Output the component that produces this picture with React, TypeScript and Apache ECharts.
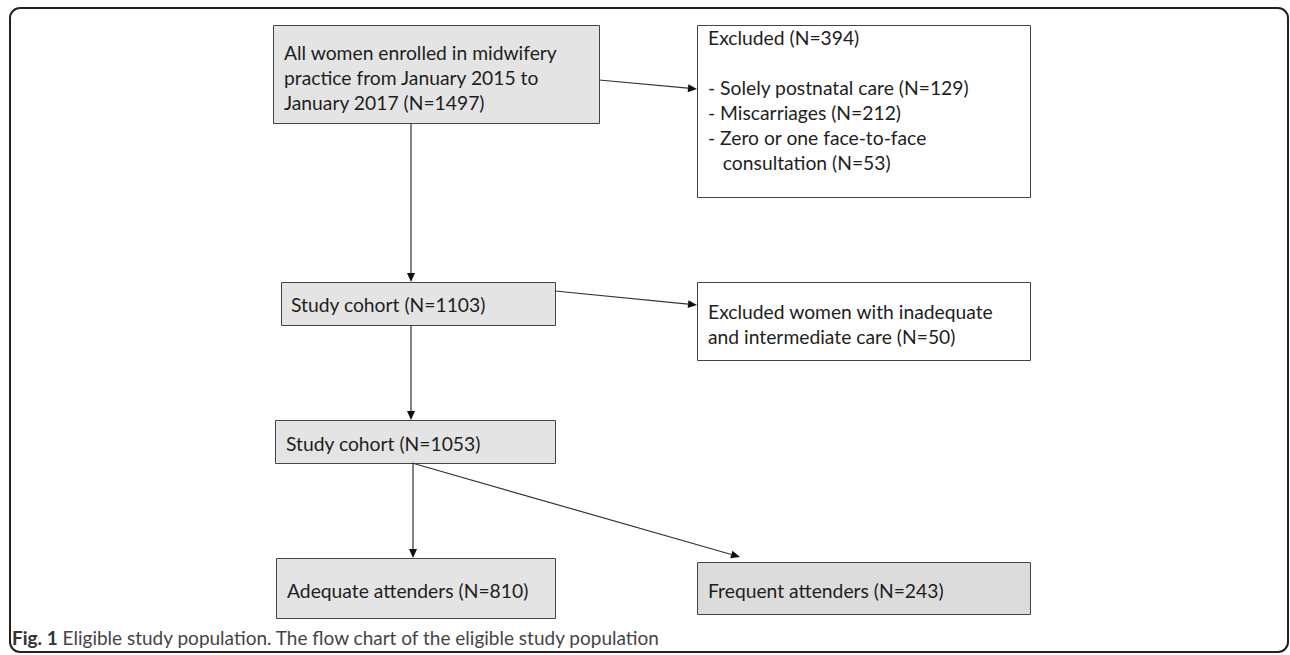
import React, { useEffect, useRef } from "react";
import * as echarts from "echarts";

// ---- data ----
const nodeLabels = [
  "All women enrolled in midwifery\npractice from January 2015 to\nJanuary 2017",
  "Excluded",
  "Study cohort",
  "Excluded women with inadequate\nand intermediate care",
  "Study cohort",
  "Adequate attenders",
  "Frequent attenders",
];
const nodeCounts = [1497, 394, 1103, 50, 1053, 810, 243];
const exclusionReasons = ["Solely postnatal care", "Miscarriages", "Zero or one face-to-face\n   consultation"];
const exclusionCounts = [129, 212, 53];
const edges: [number, number][] = [
  [0, 1],
  [0, 2],
  [2, 3],
  [2, 4],
  [4, 5],
  [4, 6],
];
const captionTitle = "Fig. 1";
const captionText = "Eligible study population. The flow chart of the eligible study population";

// ---- layout (positions & styles) ----
const boxLayout = [
  { x: 273, y: 25, w: 326, h: 98, fill: "#e4e4e4", tx: 284, ty: 52 },
  { x: 697, y: 25, w: 333, h: 172, fill: "#ffffff", tx: 708, ty: 37 },
  { x: 281, y: 282, w: 274, h: 43, fill: "#e4e4e4", tx: 291, ty: 304 },
  { x: 697, y: 282, w: 333, h: 78, fill: "#ffffff", tx: 708, ty: 311 },
  { x: 275, y: 420, w: 280, h: 43, fill: "#e4e4e4", tx: 286, ty: 443 },
  { x: 276, y: 558, w: 279, h: 60, fill: "#e4e4e4", tx: 287, ty: 590 },
  { x: 697, y: 562, w: 333, h: 52, fill: "#dcdcdc", tx: 708, ty: 590 },
];
const edgeLayout = [
  [599, 80, 697, 89],
  [411, 123, 411, 282],
  [555, 291, 697, 305],
  [411, 325, 411, 420],
  [413, 463, 413, 558],
  [412, 463, 740, 557],
];

const FONT = "Lato, 'Open Sans', sans-serif";
const FONT_SIZE = 19.3;
const LINE_H = 25;

function boxText(i: number): string {
  if (i === 1) {
    const reasons = exclusionReasons.map((r, k) => `- ${r} (N=${exclusionCounts[k]})`).join("\n");
    return `${nodeLabels[i]} (N=${nodeCounts[i]})\n\n${reasons}`;
  }
  return `${nodeLabels[i]} (N=${nodeCounts[i]})`;
}

function arrow(x1: number, y1: number, x2: number, y2: number): any[] {
  const dx = x2 - x1;
  const dy = y2 - y1;
  const len = Math.sqrt(dx * dx + dy * dy);
  const ux = dx / len;
  const uy = dy / len;
  const L = 9;
  const W = 4;
  const bx = x2 - ux * L;
  const by = y2 - uy * L;
  return [
    {
      type: "line",
      shape: { x1, y1, x2: bx, y2: by },
      style: { stroke: "#333", lineWidth: 1.2 },
      z: 5,
    },
    {
      type: "polygon",
      shape: {
        points: [
          [x2, y2],
          [bx - uy * W, by + ux * W],
          [bx + uy * W, by - ux * W],
        ],
      },
      style: { fill: "#111" },
      z: 5,
    },
  ];
}

export default function App() {
  const ref = useRef<HTMLDivElement>(null);
  useEffect(() => {
    document.body.style.margin = "0";
    if (!ref.current) return;
    const chart = echarts.init(ref.current, null, { renderer: "svg" });
    const elements: any[] = [];

    // outer frame
    elements.push({
      type: "rect",
      shape: { x: 10, y: 8, width: 1278, height: 644, r: 10 },
      style: { fill: "none", stroke: "#222", lineWidth: 2 },
      z: 1,
    });

    boxLayout.forEach((b, i) => {
      elements.push({
        type: "rect",
        shape: { x: b.x + 0.5, y: b.y + 0.5, width: b.w, height: b.h },
        style: { fill: b.fill, stroke: "#444", lineWidth: 1 },
        z: 3,
      });
      const txt = boxText(i);
      const nLines = txt.split("\n").length;
      elements.push({
        type: "text",
        x: b.tx,
        y: nLines > 1 ? b.ty - LINE_H / 2 : b.ty,
        style: {
          text: txt,
          fontFamily: FONT,
          fontSize: FONT_SIZE,
          lineHeight: LINE_H,
          fill: "#1e1e1e",
          align: "left",
          verticalAlign: nLines > 1 ? "top" : "middle",
        },
        z: 4,
      });
    });

    edges.forEach((e, k) => {
      const [x1, y1, x2, y2] = edgeLayout[k];
      elements.push(...arrow(x1, y1, x2, y2));
    });

    elements.push({
      type: "text",
      x: 12,
      y: 637,
      style: {
        text: `{b|${captionTitle}} ${captionText}`,
        fontFamily: FONT,
        fontSize: 19,
        fill: "#444",
        verticalAlign: "middle",
        rich: {
          b: { fontWeight: "bold", fill: "#333", fontFamily: FONT, fontSize: 19 },
        },
      },
      z: 4,
    });

    chart.setOption({
      animation: false,
      backgroundColor: "#ffffff",
      graphic: { elements },
    });
    return () => chart.dispose();
  }, []);
  return <div ref={ref} style={{ width: 1290, height: 655 }} />;
}
